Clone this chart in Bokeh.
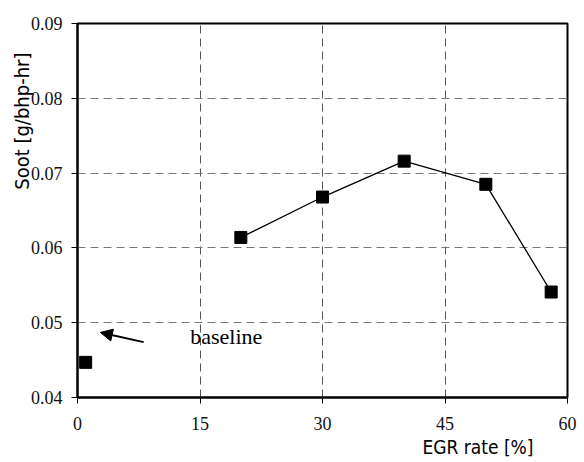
from bokeh.plotting import figure
from bokeh.models import Range1d, FixedTicker, PrintfTickFormatter, Label, Arrow, NormalHead, Title
from bokeh.embed import file_html
from bokeh.resources import INLINE

# data
egr_rate = [20, 30, 40, 50, 58]
soot = [0.0614, 0.0668, 0.0716, 0.0685, 0.0541]
baseline_egr = [1]
baseline_soot = [0.0447]
x_ticks = [0, 15, 30, 45, 60]
y_ticks = [0.04, 0.05, 0.06, 0.07, 0.08, 0.09]

SERIF = "Liberation Serif"
NARROW = "'Liberation Sans Narrow', 'DejaVu Sans Condensed', sans-serif"

p = figure(frame_width=490, frame_height=374, output_backend="svg", toolbar_location=None,
           x_range=Range1d(0, 60), y_range=Range1d(0.04, 0.09),
           min_border_left=77, min_border_right=11, min_border_top=23, min_border_bottom=64)
p.background_fill_color = "white"
p.border_fill_color = "white"
p.outline_line_color = "black"
p.outline_line_width = 2

for ax in (p.xaxis[0], p.yaxis[0]):
    ax.axis_line_color = "black"
    ax.axis_line_width = 2
    ax.major_tick_line_color = "black"
    ax.major_tick_line_width = 1
    ax.major_tick_out = 6
    ax.major_tick_in = 0
    ax.minor_tick_line_color = None
    ax.major_label_text_font = SERIF
    ax.major_label_text_font_size = "18px"
    ax.major_label_text_color = "#111111"

p.xaxis.ticker = FixedTicker(ticks=x_ticks)
p.yaxis.ticker = FixedTicker(ticks=y_ticks)
p.yaxis.formatter = PrintfTickFormatter(format="%.2f")
p.xaxis.major_label_standoff = 13
p.yaxis.major_label_standoff = 9

p.xgrid.grid_line_color = "#555555"
p.ygrid.grid_line_color = "#777777"
p.xgrid.grid_line_dash = "8 5"
p.ygrid.grid_line_dash = "8 5"
p.xgrid.grid_line_width = 1
p.ygrid.grid_line_width = 1.2

p.line(egr_rate, soot, line_color="black", line_width=1.3)
p.scatter(egr_rate, soot, marker="square", size=12, fill_color="black", line_color="black")
p.scatter(baseline_egr, baseline_soot, marker="square", size=12, fill_color="black", line_color="black")

p.add_layout(Arrow(end=NormalHead(size=12, fill_color="black", line_color="black"),
                   x_start=8.1, y_start=0.0474, x_end=2.8, y_end=0.0487,
                   line_color="black", line_width=2))
p.add_layout(Label(x=13.8, y=0.0482, text="baseline", text_font=SERIF,
                   text_font_size="22px", text_color="black", text_baseline="alphabetic"))

p.add_layout(Title(text="Soot [g/bhp-hr]", align="right", offset=29, standoff=-12,
                   text_font=NARROW, text_font_size="20px", text_font_style="normal",
                   text_color="black"), "left")
p.add_layout(Title(text="EGR rate [%]", align="right", offset=34, standoff=3,
                   text_font=NARROW, text_font_size="19px", text_font_style="normal",
                   text_color="black"), "below")

open("out.html", "w").write(file_html(p, INLINE))
